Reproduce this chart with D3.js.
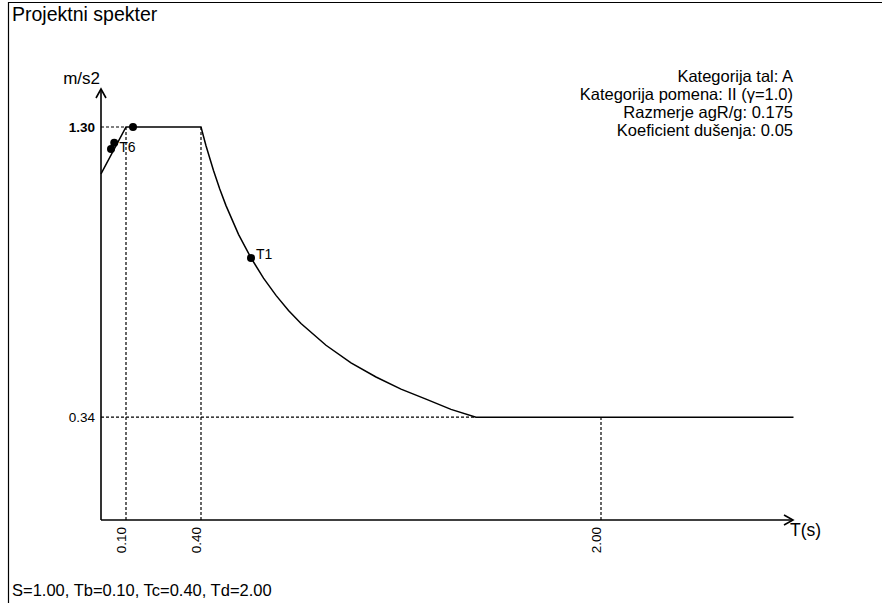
<!DOCTYPE html>
<html>
<head>
<meta charset="utf-8">
<script src="https://d3js.org/d3.v7.min.js"></script>
<style>
	body { margin: 0; background: #fff; }
	text { font-family: "Liberation Sans", Arial, sans-serif; fill: #000; }
</style>
</head>
<body>
<svg id="chart" width="882" height="603"></svg>
<script>
// spectrum: period (s) and design acceleration (m/s2)
var spectrumT = [0, 0.10, 0.40, 0.42, 0.45, 0.475, 0.50, 0.55, 0.60, 0.65, 0.70, 0.75, 0.80, 0.90, 1.00, 1.10, 1.20, 1.30, 1.40, 1.50, 2.77];
var spectrumSd = [1.145, 1.30, 1.30, 1.238, 1.156, 1.095, 1.04, 0.945, 0.867, 0.800, 0.743, 0.693, 0.650, 0.578, 0.520, 0.473, 0.433, 0.400, 0.366, 0.34, 0.34];

// periods of the structure
var pointNames = ["T1", "", "T6", ""];
var pointT = [0.60, 0.128, 0.053, 0.040];
var pointSd = [0.867, 1.30, 1.248, 1.227];

var xTickValues = [0.10, 0.40, 2.00];
var yTickValues = [0.34, 1.30];
var yBoldTick = 1.30;

var legendLines = [
	"Kategorija tal: A",
	"Kategorija pomena: II (\u03b3=1.0)",
	"Razmerje agR/g: 0.175",
	"Koeficient du\u0161enja: 0.05"
];
var titleText = "Projektni spekter";
var footerText = "S=1.00, Tb=0.10, Tc=0.40, Td=2.00";
var xAxisLabel = "T(s)";
var yAxisLabel = "m/s2";

(function () {
	"use strict";
	var svg = d3.select("#chart"),
	xScale = d3.scaleLinear().domain([0, 2.768]).range([101, 793]),
	yScale = d3.scaleLinear().domain([0, 1.30]).range([520, 127]),
	dotted = "3,2",
	x0 = xScale(0),
	y0 = yScale(0);

	// frame
	svg.append("path")
		.attr("d", "M8.5,603V2.5H882")
		.attr("fill", "none")
		.attr("stroke", "#000")
		.attr("stroke-width", 1.2);

	svg.append("text")
		.attr("x", 12)
		.attr("y", 21)
		.style("font-size", "19.5px")
		.text(titleText);

	svg.append("text")
		.attr("x", 12)
		.attr("y", 596)
		.style("font-size", "16.5px")
		.text(footerText);

	var guides = svg.append("g")
		.attr("fill", "none")
		.attr("stroke", "#000")
		.attr("stroke-width", 1.2)
		.attr("stroke-dasharray", dotted);

	// horizontal guides from the axis to where the curve meets the value
	yTickValues.forEach(function (v) {
		var reach = spectrumT[spectrumSd.indexOf(v)];
		guides.append("line")
			.attr("x1", x0)
			.attr("x2", xScale(reach))
			.attr("y1", yScale(v))
			.attr("y2", yScale(v));
	});

	// vertical guides from the axis up to the curve
	xTickValues.forEach(function (v) {
		var top = v <= spectrumT[2] ? yScale(d3.max(spectrumSd)) : yScale(d3.min(spectrumSd));
		guides.append("line")
			.attr("x1", xScale(v))
			.attr("x2", xScale(v))
			.attr("y1", y0)
			.attr("y2", top);
	});

	var line = d3.line()
		.x(function (d) { return xScale(d[0]); })
		.y(function (d) { return yScale(d[1]); });

	svg.append("path")
		.datum(d3.zip(spectrumT, spectrumSd))
		.attr("d", line)
		.attr("fill", "none")
		.attr("stroke", "#000")
		.attr("stroke-width", 1.5);

	// axes with open arrow heads
	var axes = svg.append("g")
		.attr("fill", "none")
		.attr("stroke", "#000")
		.attr("stroke-width", 1.6);

	axes.append("path")
		.attr("d", "M" + x0 + "," + y0 + "V89");
	axes.append("path")
		.attr("d", "M" + (x0 - 5) + ",98L" + x0 + ",89L" + (x0 + 5) + ",98");
	axes.append("path")
		.attr("d", "M" + x0 + "," + y0 + "H793");
	axes.append("path")
		.attr("d", "M784," + (y0 - 5) + "L793," + y0 + "L784," + (y0 + 5));

	svg.append("text")
		.attr("x", 100)
		.attr("y", 84)
		.attr("text-anchor", "end")
		.style("font-size", "17px")
		.text(yAxisLabel);

	svg.append("text")
		.attr("x", 790)
		.attr("y", 536)
		.style("font-size", "17.5px")
		.text(xAxisLabel);

	svg.selectAll(".y-tick").data(yTickValues)
		.enter()
		.append("text")
		.attr("class", "y-tick")
		.attr("x", 95)
		.attr("y", function (d) { return yScale(d) + 4.5; })
		.attr("text-anchor", "end")
		.style("font-size", "13.5px")
		.style("font-weight", function (d) { return d === yBoldTick ? "bold" : "normal"; })
		.text(function (d) { return d.toFixed(2); });

	svg.selectAll(".x-tick").data(xTickValues)
		.enter()
		.append("text")
		.attr("class", "x-tick")
		.attr("transform", function (d) {
			return "translate(" + (xScale(d) - 0.5) + ",527) rotate(-90)";
		})
		.attr("text-anchor", "end")
		.style("font-size", "13.5px")
		.text(function (d) { return d.toFixed(2); });

	// legend, right aligned
	svg.selectAll(".legend").data(legendLines)
		.enter()
		.append("text")
		.attr("class", "legend")
		.attr("x", 793)
		.attr("y", function (d, i) { return 82 + i * 18; })
		.attr("text-anchor", "end")
		.style("font-size", "16.5px")
		.text(function (d) { return d; });

	var points = d3.zip(pointT, pointSd, pointNames);

	svg.selectAll(".pt").data(points)
		.enter()
		.append("circle")
		.attr("class", "pt")
		.attr("cx", function (d) { return xScale(d[0]); })
		.attr("cy", function (d) { return yScale(d[1]); })
		.attr("r", 4)
		.attr("fill", "#000");

	svg.selectAll(".pt-label").data(points.filter(function (d) { return d[2]; }))
		.enter()
		.append("text")
		.attr("class", "pt-label")
		.attr("x", function (d) { return xScale(d[0]) + 5; })
		.attr("y", function (d) { return yScale(d[1]) + (d[1] > 1.2 ? 9 : 1); })
		.style("font-size", "14px")
		.text(function (d) { return d[2]; });
})();
</script>
</body>
</html>
